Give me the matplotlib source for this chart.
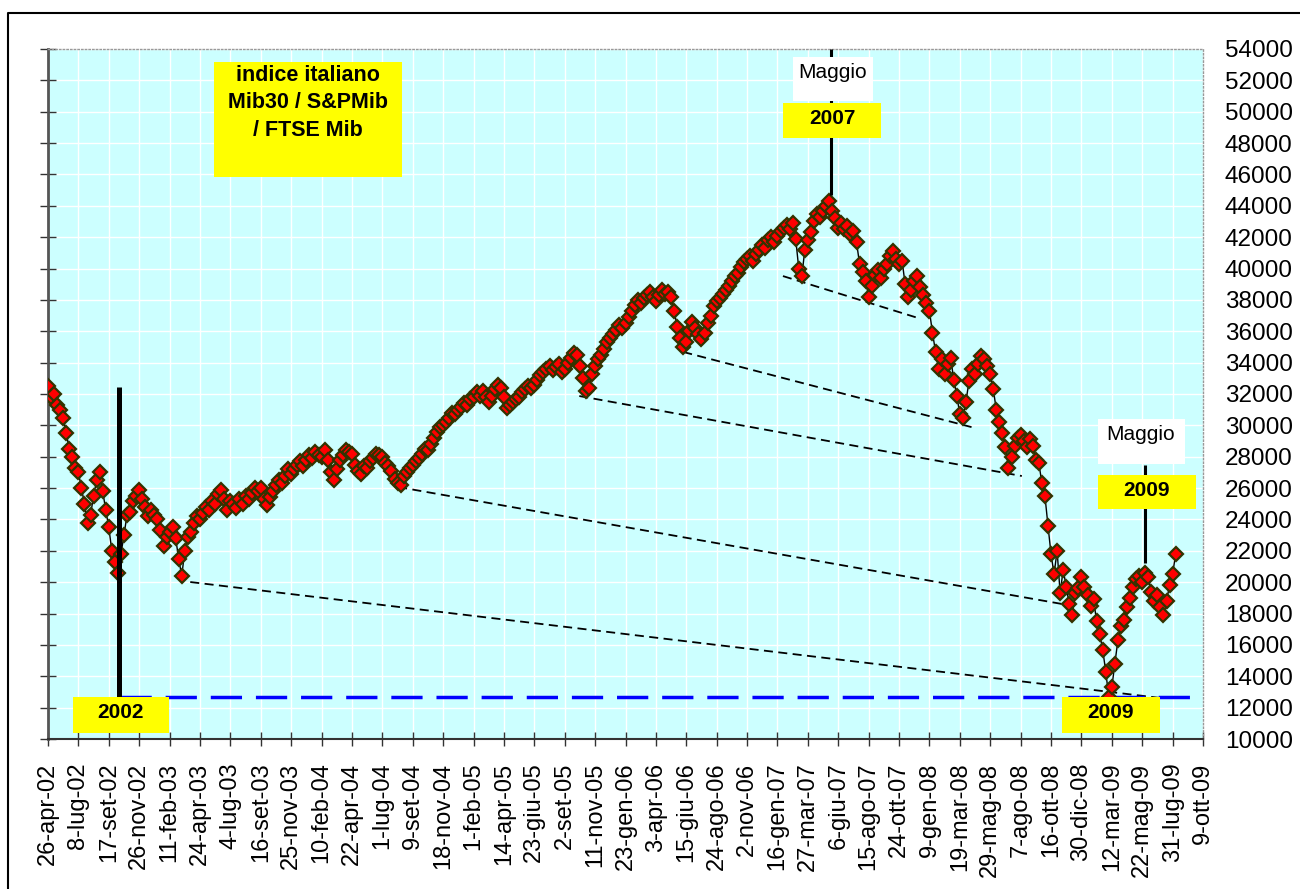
import numpy as np
import matplotlib
matplotlib.use("Agg")
import matplotlib.pyplot as plt
from matplotlib.patches import Rectangle
from matplotlib.lines import Line2D

plt.rcParams['font.family'] = ['Liberation Sans', 'DejaVu Sans']

W, H = 1300, 889

# category axis: one label every 50 sessions
tick_labels = [
    "26-apr-02", "8-lug-02", "17-set-02", "26-nov-02", "11-feb-03", "24-apr-03",
    "4-lug-03", "16-set-03", "25-nov-03", "10-feb-04", "22-apr-04", "1-lug-04",
    "9-set-04", "18-nov-04", "1-feb-05", "14-apr-05", "23-giu-05", "2-set-05",
    "11-nov-05", "23-gen-06", "3-apr-06", "15-giu-06", "24-ago-06", "2-nov-06",
    "16-gen-07", "27-mar-07", "6-giu-07", "15-ago-07", "24-ott-07", "9-gen-08",
    "19-mar-08", "29-mag-08", "7-ago-08", "16-ott-08", "30-dic-08", "12-mar-09",
    "22-mag-09", "31-lug-09", "9-ott-09",
]
TICK_EVERY = 50
STEP = 5  # one reading every 5 sessions, from 26-apr-02

mib = [
    32500, 31800, 32000, 31300, 31000, 30500, 29500, 28500, 28000, 27300,
    27000, 26000, 25000, 23800, 24300, 25500, 26500, 27000, 25800, 24600,
    23500, 22000, 21300, 20600, 21800, 23000, 24300, 24500, 25200, 25500,
    25900, 25300, 24800, 24200, 24600, 24300, 24000, 23300, 22300, 22900,
    23200, 23500, 22800, 21500, 20400, 22000, 22900, 23200, 23800, 24200,
    24000, 24400, 24800, 24600, 25200, 25000, 25600, 25900, 25300, 24600,
    25200, 25000, 24700, 25300, 25000, 25500, 25300, 25700, 26000, 25800,
    26000, 25300, 24900, 25400, 25800, 26200, 26500, 26300, 26800, 27200,
    26900, 27200, 27500, 27700, 27400, 27800, 28100, 27900, 28300, 28100,
    28000, 28400, 27800, 27000, 26500, 27200, 27800, 28100, 28400, 28300,
    28200, 27500, 27100, 26900, 27400, 27300, 27700, 27900, 28200, 28100,
    28000, 27600, 27400, 27100, 26600, 26300, 26200, 26800, 27000, 27300,
    27500, 27700, 27900, 28200, 28500, 28400, 28800, 29200, 29600, 29900,
    30000, 30200, 30500, 30800, 30700, 31000, 31200, 31400, 31300, 31700,
    31800, 32100, 31900, 32200, 31800, 31500, 31900, 32300, 32600, 32400,
    31800, 31100, 31300, 31500, 31700, 31800, 32100, 32300, 32500, 32400,
    32600, 32900, 33200, 33400, 33600, 33800, 33500, 33700, 33900, 33400,
    33600, 34000, 34300, 34600, 34500, 33800, 33000, 32200, 32400, 33300,
    33800, 34200, 34500, 34900, 35300, 35600, 35800, 36100, 36400, 36200,
    36500, 36900, 37300, 37700, 38000, 37800, 38100, 38300, 38500, 38200,
    37900, 38300, 38600, 38400, 38500, 38200, 37300, 36300, 35600, 35000,
    35300, 36000, 36600, 36200, 35800, 35500, 35900, 36500, 37000, 37600,
    37900, 38100, 38400, 38600, 38900, 39200, 39500, 39700, 40100, 40400,
    40600, 40800, 40500, 40900, 41200, 41500, 41300, 41800, 42000, 41700,
    42100, 42400, 42600, 42800, 42500, 42900, 41900, 40000, 39500, 41200,
    41800, 42300, 43000, 43500, 43300, 43700, 44000, 44300, 43700, 43200,
    42600, 42900, 42500, 42700, 42200, 42400, 41700, 40300, 39800, 39200,
    38200, 38900, 39600, 39900, 39400, 40000, 40300, 40800, 41100, 40600,
    40300, 40500, 39000, 38200, 38600, 39200, 39500, 38800, 38300, 37800,
    37300, 35900, 34700, 33600, 34200, 33300, 33900, 34300, 32900, 31900,
    30700, 30500, 31500, 32800, 33600, 33300, 33900, 34400, 34200, 33800,
    33300, 32300, 31000, 30200, 29500, 28600, 27300, 28000, 28700, 29200,
    29400, 29000, 28600, 29100, 28700, 27800, 27600, 26300, 25500, 23600,
    21800, 20500, 22000, 19300, 20800, 19700, 18600, 17900, 19300, 19600,
    20300, 19700, 19200, 18500, 18900, 17500, 16700, 15700, 14300, 12700,
    13300, 14800, 16300, 17200, 17600, 18400, 19000, 19700, 20200, 20400,
    20000, 20600, 20300, 19400, 18800, 19200, 18400, 17900, 18800, 19800,
    20500, 21800,
]

# dashed lines from the older lows (session index, value)
sup_x0 = [234, 576, 874, 1045, 1209]
sup_y0 = [20010, 26070, 31870, 34680, 39520]
sup_x1 = [1829, 1668, 1602, 1525, 1431]
sup_y1 = [12620, 18610, 26770, 29830, 36850]

# vertical markers: 2002 low, May 2007 top, May 2009
mark_idx = [116, 1288, 1805]
mark_lo = [12700, 44700, 21200]
mark_hi = [32450, 54000, 27500]
mark_lw = [3.6, 2.2, 2.2]

low_level = 12700
low_from, low_to = 118, 1890

fig = plt.figure(figsize=(W / 100, H / 100), dpi=100)
ax = fig.add_axes([48 / W, 1 - 739 / H, 1155 / W, 690 / H])
ax.set_facecolor("#CCFFFF")
ax.set_xlim(0, (len(tick_labels) - 1) * TICK_EVERY)
ax.set_ylim(10000, 54000)

ax.set_xticks(np.arange(len(tick_labels)) * TICK_EVERY)
ax.set_xticklabels(tick_labels, rotation=90, fontsize=17)
yt = np.arange(10000, 54001, 2000)
ax.set_yticks(yt)
ax.set_yticklabels([str(v) for v in yt], fontsize=17.5)
ax.grid(True, color="white", lw=1)
ax.set_axisbelow(True)

ax.tick_params(axis="x", direction="inout", length=10, width=1, color="#333333", pad=12)
ax.tick_params(axis="y", direction="inout", length=11.5, width=1, color="#333333",
               left=True, right=False, labelleft=False, labelright=True, pad=10)
for s in ("top", "right"):
    ax.spines[s].set_color("#999999")
    ax.spines[s].set_linestyle(":")
    ax.spines[s].set_linewidth(1)
ax.spines["left"].set_color("#555555")
ax.spines["left"].set_linewidth(2)
ax.spines["bottom"].set_color("#333333")
ax.spines["bottom"].set_linewidth(1.5)

# support lines and the 2009 low level
for x0, y0, x1, y1 in zip(sup_x0, sup_y0, sup_x1, sup_y1):
    ax.plot([x0, x1], [y0, y1], color="black", lw=1.3, ls=(0, (5, 3)), zorder=3)
ax.plot([low_from, low_to], [low_level, low_level], color="#0000FF", lw=2.5,
        ls=(0, (9, 4)), zorder=3)

x = np.arange(len(mib)) * STEP
ax.plot(x, mib, color="black", lw=1, marker="D", ms=6.8, mfc="#FF0000",
        mec="#333300", mew=1.6, zorder=4)

for xi, lo, hi, lw in zip(mark_idx, mark_lo, mark_hi, mark_lw):
    ax.plot([xi, xi], [lo, hi], color="black", lw=lw, solid_capstyle="butt",
            zorder=5, clip_on=False)


def box(x0, y0, x1, y1, color):
    fig.add_artist(Rectangle((x0 / W, 1 - y1 / H), (x1 - x0) / W, (y1 - y0) / H,
                             transform=fig.transFigure, facecolor=color,
                             edgecolor="none", zorder=6))


def label(xp, yp, s, **kw):
    fig.text(xp / W, 1 - yp / H, s, ha="center", va="center", zorder=7, **kw)


box(214, 62, 402, 177, "#FFFF00")
fig.text(308 / W, 1 - 65 / H, "indice italiano\nMib30 / S&PMib\n/ FTSE Mib",
         ha="center", va="top", fontsize=15.5, fontweight="bold",
         linespacing=1.4, zorder=7)

box(793, 57, 873, 101, "white")
label(833, 73, "Maggio", fontsize=15)
box(783, 103, 881, 138, "#FFFF00")
label(832, 119, "2007", fontsize=15, fontweight="bold")

box(1098, 419, 1185, 464, "white")
label(1141, 435, "Maggio", fontsize=15)
box(1098, 475, 1196, 509, "#FFFF00")
label(1146, 491, "2009", fontsize=15, fontweight="bold")

box(73, 697, 169, 733, "#FFFF00")
label(120, 712, "2002", fontsize=15, fontweight="bold")
box(1062, 697, 1160, 733, "#FFFF00")
label(1110, 713, "2009", fontsize=15, fontweight="bold")

# outer chart frame (top and left edges visible)
fig.add_artist(Line2D([8 / W, 8 / W, 1], [0, 1 - 13 / H, 1 - 13 / H],
                      transform=fig.transFigure, color="black", lw=1.5))

fig.savefig("out.png", dpi=100)
